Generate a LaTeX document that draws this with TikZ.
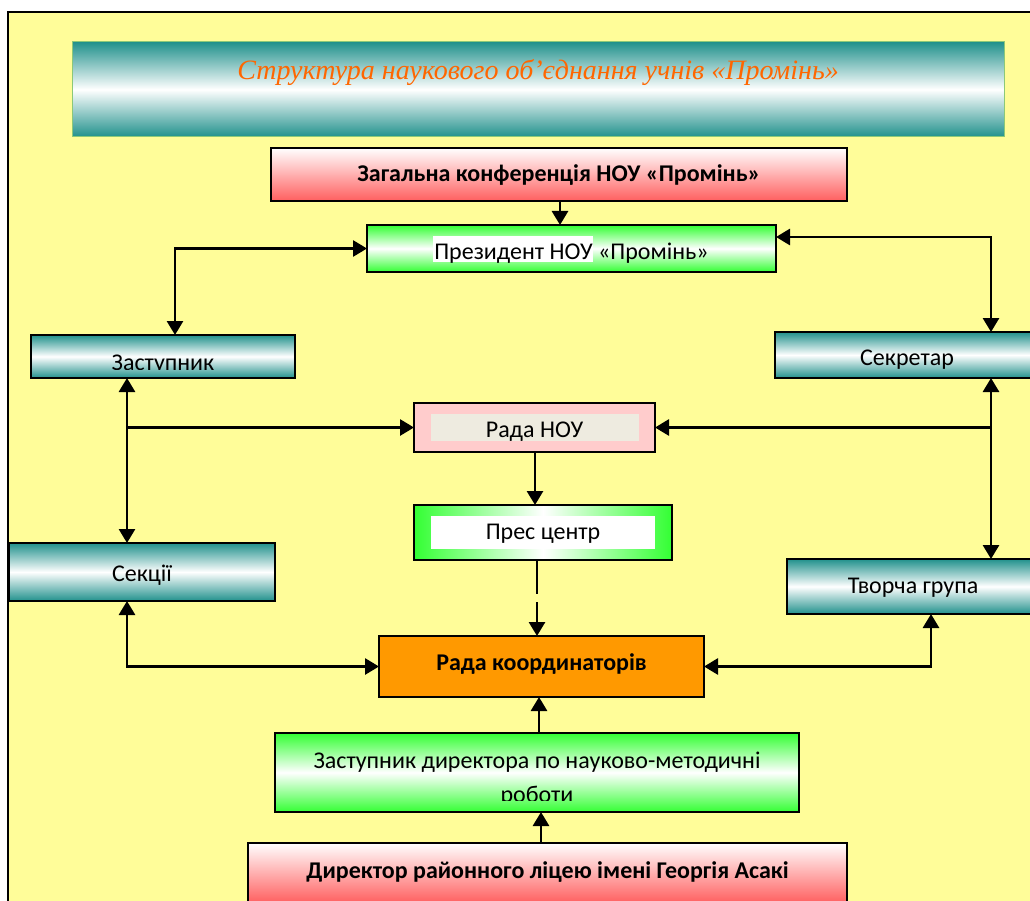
\documentclass[tikz,border=0pt]{standalone}
\usepackage{fontspec}
\setmainfont{Carlito}
\newfontfamily\titlefont{Liberation Serif}
\usetikzlibrary{arrows.meta}
\definecolor{bgyellow}{RGB}{255,253,153}
\definecolor{tealc}{RGB}{33,145,140}
\definecolor{greenc}{RGB}{51,255,51}
\definecolor{redc}{RGB}{255,95,95}
\definecolor{pinkc}{RGB}{255,204,204}
\definecolor{grayin}{RGB}{238,235,224}
\definecolor{orangec}{RGB}{255,153,0}
\definecolor{titleorange}{RGB}{255,102,0}
\definecolor{titleframe}{RGB}{140,200,120}
\newcommand\bl[2]{\raisebox{#1}[0pt][0pt]{#2}}
\begin{document}
\begin{tikzpicture}[x=1pt,y=-1pt,
  box/.style={draw=black, line width=1.8pt, inner sep=0pt, outer sep=0pt, anchor=north west,
    rectangle, font=\fontsize{24}{28}\selectfont, text=black},
  tealbox/.style={box, top color=tealc, bottom color=tealc, middle color=white},
  greenbox/.style={box, top color=greenc, bottom color=greenc, middle color=white},
  redbox/.style={box, top color=white, bottom color=redc},
  boldtext/.style={font=\fontsize{24}{28}\selectfont\bfseries},
  innertext/.style={anchor=center, draw=none, inner sep=0pt, minimum width=0pt, minimum height=0pt,
    font=\fontsize{24}{28}\selectfont, text=black},
  arr/.style={line width=2.8pt, -{Triangle[length=14pt,width=16pt]}},
  darr/.style={line width=2.8pt, {Triangle[length=14pt,width=16pt]}-{Triangle[length=14pt,width=16pt]}},
]
\useasboundingbox (0,0) rectangle (1030,901);
\clip (0,0) rectangle (1030,901);
\fill[white] (0,0) rectangle (1030,901);
\draw[line width=2pt, fill=bgyellow] (8,12) rectangle (1045,915);

% helper coordinates
\coordinate (c127) at (127,0);
\coordinate (c175) at (175,0);
\coordinate (c237) at (0,237);
\coordinate (c535) at (535,0);
\coordinate (c537) at (537,0);
\coordinate (c539) at (539,0);
\coordinate (c541) at (541,0);
\coordinate (c560) at (560,0);
\coordinate (c931) at (931,0);
\coordinate (c991) at (991,0);

% title
\node[box, draw=titleframe, line width=1pt, top color=tealc, bottom color=tealc, middle color=white,
  minimum width=932pt, minimum height=95pt] (title) at (72,42)
  {\bl{9.5pt}{\titlefont\itshape\fontsize{28}{32}\selectfont\color{titleorange}Структура наукового об’єднання учнів «Промінь»}};

% boxes
\node[redbox, boldtext, minimum width=576pt, minimum height=53pt] (conf) at (271,148)
  {\bl{-7pt}{Загальна конференція НОУ «Промінь»}};
\node[greenbox, minimum width=409pt, minimum height=47pt,
  path picture={\fill[white] ([xshift=66pt,yshift=-11pt]path picture bounding box.north west)
     rectangle ([xshift=-183pt,yshift=10pt]path picture bounding box.south east);}] (pres) at (367,225)
  {\bl{-10.5pt}{Президент НОУ «Промінь»}};
\node[tealbox, minimum width=264pt, minimum height=43pt,
  path picture={\clip ([yshift=-2pt]path picture bounding box.north west) rectangle ([yshift=9pt]path picture bounding box.south east);
    \node[innertext] at ([yshift=-13.5pt]path picture bounding box.center) {\bl{0pt}{Заступник}};}] (zast) at (31,335)
  {};
\node[tealbox, minimum width=264pt, minimum height=46pt] (sekr) at (775,332)
  {\bl{-10pt}{Секретар}};
\node[box, fill=pinkc, minimum width=241pt, minimum height=49pt,
  path picture={\fill[grayin] ([xshift=17pt,yshift=-11pt]path picture bounding box.north west)
     rectangle ([xshift=-16pt,yshift=11pt]path picture bounding box.south east);}] (rada) at (414,403)
  {\bl{-9.5pt}{Рада НОУ}};
\node[box, left color=greenc, right color=greenc, middle color=white, minimum width=258pt, minimum height=55pt,
  path picture={\fill[white] ([xshift=17pt,yshift=-11pt]path picture bounding box.north west)
     rectangle ([xshift=-17pt,yshift=11pt]path picture bounding box.south east);}] (presc) at (414,505)
  {\bl{-6.5pt}{Прес центр}};
\node[tealbox, minimum width=266pt, minimum height=58pt] (sekcii) at (9,543)
  {\bl{-9pt}{Секції}};
\node[tealbox, minimum width=252pt, minimum height=55pt] (tvor) at (787,559)
  {\bl{-6.5pt}{Творча група}};
\node[box, boldtext, fill=orangec, minimum width=325pt, minimum height=61pt] (koord) at (379,636)
  {\bl{-3.5pt}{Рада координаторів}};
\node[greenbox, minimum width=524pt, minimum height=79pt,
  path picture={\clip ([yshift=-2pt]path picture bounding box.north west) rectangle ([yshift=12pt]path picture bounding box.south east);
    \node[innertext] at (path picture bounding box.center)
    {\bl{4.5pt}{\begin{tabular}[t]{@{}c@{}}Заступник директора по науково-методичні\\[6pt]роботи\end{tabular}}};}] (zdir) at (275,733)
  {};
\node[redbox, boldtext, minimum width=599pt, minimum height=60pt] (dir) at (248,843)
  {\bl{-5pt}{Директор районного ліцею імені Георгія Асакі}};

% connectors
\draw[arr] (conf.south -| c560) -- (pres.north -| c560);
\draw[darr] (pres.west) -| (zast.north -| c175);
\draw[darr] (pres.east |- c237) -| (sekr.north -| c991);
\draw[darr] (zast.south -| c127) -- (sekcii.north -| c127);
\draw[arr] (c127 |- rada.west) -- (rada.west);
\draw[darr] (sekr.south -| c991) -- (tvor.north -| c991);
\draw[arr] (c991 |- rada.east) -- (rada.east);
\draw[arr] (rada.south -| c535) -- (presc.north -| c535);
\draw[arr, dash pattern=on 34pt off 8pt on 200pt] (presc.south -| c537) -- (koord.north -| c537);
\draw[darr] (sekcii.south -| c127) |- (koord.west);
\draw[darr] (koord.east) -| (tvor.south -| c931);
\draw[arr] (zdir.north -| c539) -- (koord.south -| c539);
\draw[arr] (dir.north -| c541) -- (zdir.south -| c541);
\end{tikzpicture}
\end{document}
